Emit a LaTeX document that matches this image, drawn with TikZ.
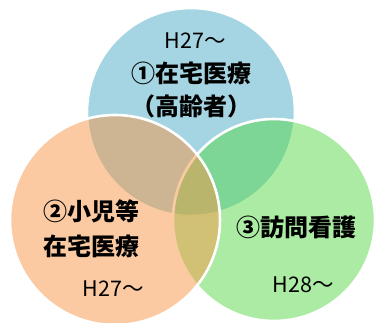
\documentclass[tikz,border=0pt]{standalone}
\usepackage{fontspec}
\newfontfamily\jp{Noto Sans CJK JP}
\definecolor{kouBlue}{RGB}{75,172,198}
\definecolor{kouGreen}{RGB}{88,216,72}
\definecolor{kouOrange}{RGB}{247,150,70}

\begin{document}
\begin{tikzpicture}[x=1pt,y=-1pt,
    venn/.style={draw=white,line width=2.6pt,fill opacity=0.5},
    bigtxt/.style={font=\jp\bfseries\fontsize{24}{28}\selectfont,inner sep=0pt},
    smalltxt/.style={font=\jp\fontsize{21.5}{24}\selectfont,inner sep=0pt}]

    \useasboundingbox (0,0) rectangle (374,322);

    % circles: blue, then green, then orange on top
    \fill [venn,fill=kouBlue] (191,112) circle [radius=104];
    \filldraw [venn,fill=kouGreen] (274,220) circle [radius=101];
    \filldraw [venn,fill=kouOrange] (115,220) circle [radius=105];

    % top circle
    \node [smalltxt] (h27top) at (195,41) {H27～};
    \node [bigtxt] (zaitaku) at (191,73) {①在宅医療};
    \node [bigtxt] (koureisha) at (191,106) {（高齢者）};

    % left circle
    \node [bigtxt,anchor=west] (shouni) at (43,211) {②小児等};
    \node [bigtxt,anchor=west] (shouniZaitaku) at (43,246) {在宅医療};
    \node [smalltxt] (h27left) at (113,289) {H27～};

    % right circle
    \node [bigtxt] (houmon) at (296,227) {③訪問看護};
    \node [smalltxt] (h28) at (303,285) {H28～};

\end{tikzpicture}
\end{document}
